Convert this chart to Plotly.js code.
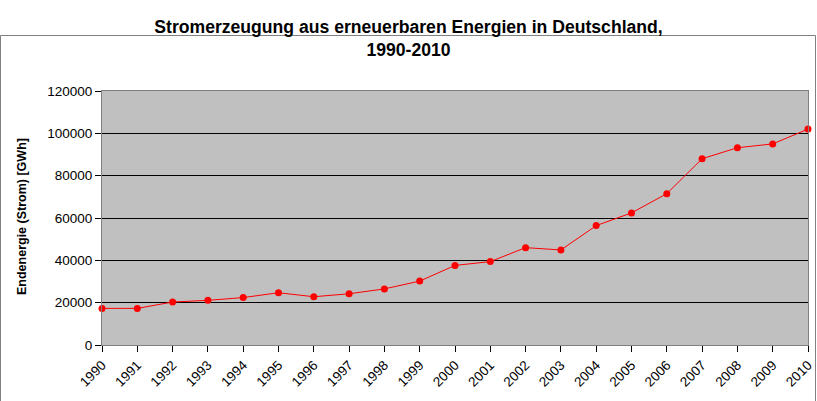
<!DOCTYPE html>
<html><head><meta charset="utf-8">
<script src="https://cdn.plot.ly/plotly-3.0.1.min.js"></script>
<style>html,body{margin:0;padding:0;background:#fff}#chart{width:817px;height:401px}</style>
</head><body><div id="chart"></div>
<script>
const years = [1990,1991,1992,1993,1994,1995,1996,1997,1998,1999,2000,2001,2002,2003,2004,2005,2006,2007,2008,2009,2010];
const energyGWh = [17300,17300,20300,21100,22400,24700,22800,24200,26500,30200,37600,39400,46000,44900,56400,62400,71500,88000,93200,95000,102000];
const yTicks = [0,20000,40000,60000,80000,100000,120000];

const L=102, R=9, T=91, B=56, W=817, H=401;
const pw=W-L-R, ph=H-T-B;

Plotly.newPlot('chart',[{
  x: years, y: energyGWh, type:'scatter', mode:'lines+markers',
  line:{color:'#ff0000', width:1},
  marker:{color:'#ff0000', size:7},
  cliponaxis:false, hoverinfo:'x+y'
}],{
  width:W, height:H,
  margin:{l:L,r:R,t:T,b:B,pad:0},
  paper_bgcolor:'#ffffff', plot_bgcolor:'#c0c0c0',
  showlegend:false,
  font:{family:'Liberation Sans, Arial, sans-serif', size:13.5, color:'#000'},
  title:{text:'<b>Stromerzeugung aus erneuerbaren Energien in Deutschland,<br>1990-2010</b>',
    font:{size:17.6, family:'Liberation Sans, Arial, sans-serif', color:'#000'},
    x:0.5, xanchor:'center', y:0.918, yanchor:'top', yref:'container'},
  xaxis:{range:[1990,2010], tickvals:years, ticktext:years.map(String), tickangle:-45,
    ticks:'outside', ticklen:6, tickcolor:'#000', tickwidth:1,
    showgrid:false, zeroline:false, showline:true, linecolor:'#808080', linewidth:1, mirror:true,
    tickfont:{size:13.5}},
  yaxis:{range:[0,120000], tickvals:yTicks, ticktext:yTicks.map(String),
    ticks:'outside', ticklen:6, tickcolor:'#000', tickwidth:1,
    showgrid:true, gridcolor:'#000000', gridwidth:1, zeroline:false,
    showline:true, linecolor:'#808080', linewidth:1, mirror:true,
    tickfont:{size:13.5}},
  annotations:[{text:'<b>Endenergie (Strom) [GWh]</b>', xref:'paper', yref:'paper',
    x:(22-L)/pw, y:(H-B-217)/ph, xanchor:'center', yanchor:'middle', textangle:-90,
    showarrow:false, font:{size:12.5, color:'#000'}}],
  shapes:[{type:'rect', xref:'paper', yref:'paper',
    x0:(0.5-L)/pw, x1:(815.5-L)/pw, y0:(H-T-399.5)/ph, y1:(H-T-0.5)/ph,
    line:{color:'#808080', width:1}, fillcolor:'rgba(0,0,0,0)', layer:'below'}]
},{displayModeBar:false, staticPlot:true});
</script></body></html>
